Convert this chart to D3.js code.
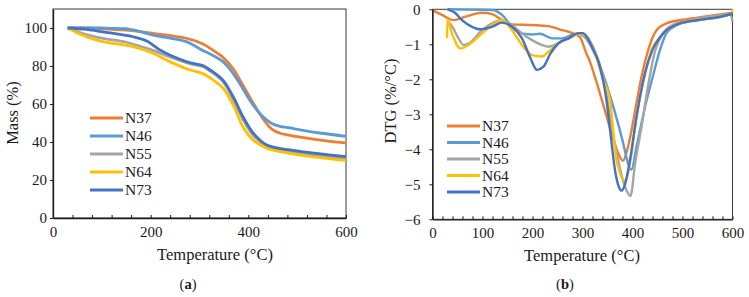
<!DOCTYPE html>
<html>
<head>
<meta charset="utf-8">
<script src="https://cdn.jsdelivr.net/npm/d3@7"></script>
<style>
  body { margin: 0; background: #fff; }
  .axis path, .axis line { stroke: #1a1a1a; }
</style>
</head>
<body>
<svg id="chart" width="749" height="297"></svg>
<script>
const FONT = "Times New Roman, Liberation Serif, Times, DejaVu Serif, serif";

// series names + Excel colours
const seriesNames = ["N37", "N46", "N55", "N64", "N73"];
const seriesColors = ["#ED7D31", "#5B9BD5", "#A5A5A5", "#FFC000", "#4472C4"];

// (a) TGA, [temperature, mass %]
const tgaN37 = [[30,100],[70,100],[100,99.6],[143,99],[205,97.2],[273,94.6],[307,91.6],[335,87],[348,84.6],[369,78.5],[383,72.5],[403,63.5],[417,57.5],[428,53],[438,49.5],[448,46.8],[465,44.6],[485,43.5],[520,42],[560,40.6],[600,39.5]];
const tgaN46 = [[30,100],[100,100],[150,99.6],[164,99],[205,96.3],[273,92.8],[301,89],[348,82.3],[369,76],[383,70.5],[403,62],[417,57],[428,53.8],[438,51.5],[448,49.8],[465,48.2],[485,47.4],[506,46.4],[550,44.6],[600,43]];
const tgaN55 = [[30,100],[68,96.5],[102,94.5],[150,92.5],[205,88.2],[239,84.8],[281,81.2],[307,79.6],[322,77.3],[348,71.8],[369,62.5],[389,52],[410,43.5],[438,37.8],[485,34.9],[540,33],[600,31.2]];
const tgaN64 = [[30,100],[68,95.4],[102,92.8],[164,90.2],[205,86.7],[239,82.3],[281,77.9],[307,76],[322,73.7],[348,68.4],[369,59.5],[389,48],[410,41],[438,36.8],[485,34],[540,32],[600,30.2]];
const tgaN73 = [[30,100],[68,99.3],[102,98],[164,95.4],[191,93.3],[218,88.6],[239,85.8],[281,81.7],[307,80.3],[322,77.9],[348,72.6],[369,63.8],[389,53.3],[410,44.7],[438,38.4],[485,35.8],[540,34],[600,32.3]];

// (b) DTG, [temperature, %/°C]
const dtgN37 = [[0,-0.03],[19,-0.16],[42,-0.31],[66,-0.21],[99,-0.1],[119,-0.14],[139,-0.3],[159,-0.43],[199,-0.45],[232,-0.48],[255,-0.58],[280,-0.68],[295,-0.8],[306,-1.2],[315,-1.5],[322,-1.8],[341,-2.7],[358,-3.54],[371,-4.1],[381,-4.33],[391,-3.93],[408,-2.68],[417,-2.0],[425,-1.5],[435,-1.0],[448,-0.6],[468,-0.4],[500,-0.3],[550,-0.2],[600,-0.1]];
const dtgN46 = [[30,0],[120,-0.02],[139,-0.16],[159,-0.5],[179,-0.69],[199,-0.72],[215,-0.7],[239,-0.83],[259,-0.83],[279,-0.73],[292,-0.7],[313,-0.95],[322,-1.2],[341,-1.85],[362,-2.8],[381,-3.8],[391,-4.4],[398,-4.58],[408,-3.93],[425,-2.79],[441,-1.9],[455,-1.16],[468,-0.68],[489,-0.45],[530,-0.3],[570,-0.2],[600,-0.12]];
const dtgN55 = [[30,-0.33],[40,-0.5],[52,-0.83],[62,-1.02],[72,-0.98],[99,-0.6],[119,-0.4],[139,-0.31],[159,-0.45],[179,-0.69],[199,-0.88],[219,-1.02],[232,-1.07],[252,-0.97],[279,-0.78],[297,-0.68],[313,-0.85],[322,-1.1],[341,-1.9],[362,-3.65],[385,-5.07],[396,-5.33],[405,-4.43],[418,-3.36],[431,-2.2],[445,-1.2],[460,-0.7],[480,-0.45],[520,-0.3],[560,-0.2],[596,-0.15],[600,-0.35]];
const dtgN64 = [[29,-0.82],[30,-0.3],[39,-0.69],[56,-1.12],[72,-1.02],[99,-0.69],[119,-0.45],[139,-0.31],[159,-0.6],[179,-1.02],[199,-1.31],[219,-1.35],[232,-1.21],[252,-0.97],[279,-0.78],[297,-0.7],[313,-0.9],[322,-1.15],[341,-2.0],[355,-2.6],[368,-4.3],[385,-4.9],[395,-4.4],[408,-3.1],[425,-1.85],[440,-1.1],[455,-0.8],[469,-0.6],[495,-0.4],[535,-0.3],[589,-0.17],[597,-0.12],[600,0]];
const dtgN73 = [[30,0],[45,-0.1],[59,-0.31],[79,-0.5],[95,-0.57],[119,-0.5],[139,-0.38],[159,-0.5],[179,-0.83],[196,-1.4],[209,-1.73],[222,-1.64],[236,-1.26],[252,-0.97],[272,-0.83],[292,-0.68],[301,-0.68],[313,-0.9],[322,-1.16],[331,-1.45],[348,-2.6],[358,-3.8],[365,-4.6],[371,-5.0],[378,-5.18],[385,-5.0],[395,-4.3],[408,-3.07],[425,-1.82],[440,-1.16],[455,-0.8],[469,-0.59],[495,-0.4],[535,-0.3],[589,-0.17],[600,-0.12]];

const tgaData = [tgaN37, tgaN46, tgaN55, tgaN64, tgaN73];
const dtgData = [dtgN37, dtgN46, dtgN55, dtgN64, dtgN73];

const svg = d3.select("#chart").style("font-family", FONT);

function drawPanel(opts) {
  let x = d3.scaleLinear().domain([0, 600]).range([opts.left, opts.right]);
  let y = d3.scaleLinear().domain(opts.yDomain).range([opts.bottom, opts.top]);
  let g = svg.append("g");

  // clip to plot area
  g.append("clipPath").attr("id", opts.id + "-clip")
    .append("rect")
    .attr("x", opts.left).attr("y", opts.top - 2)
    .attr("width", opts.right - opts.left + 2).attr("height", opts.bottom - opts.top + 2);

  // frame
  g.append("rect")
    .attr("x", opts.left).attr("y", opts.top)
    .attr("width", opts.right - opts.left).attr("height", opts.bottom - opts.top)
    .attr("fill", "none").attr("stroke", "#3a3a3a").attr("stroke-width", 1);

  let line = d3.line().x(d => x(d[0])).y(d => y(d[1])).curve(opts.curve);

  g.append("g").attr("clip-path", "url(#" + opts.id + "-clip)")
    .selectAll("path")
    .data(opts.data)
    .enter()
    .append("path")
    .attr("d", line)
    .attr("fill", "none")
    .attr("stroke", (d, i) => seriesColors[i])
    .attr("stroke-width", opts.lineWidth)
    .attr("stroke-linejoin", "round");

  // x axis: minor ticks inside, labels on majors
  let xAxis = d3.axisBottom(x)
    .tickValues(d3.range(0, 601, opts.minorStep))
    .tickFormat(d => (d % opts.majorStep === 0) ? d : "")
    .tickSizeInner(-3).tickSizeOuter(0).tickPadding(8);
  g.append("g").attr("class", "axis")
    .attr("transform", "translate(0," + opts.bottom + ")")
    .call(xAxis)
    .attr("font-family", null).attr("font-size", null)
    .call(a => a.select(".domain").attr("stroke-width", 1.3))
    .selectAll("text").style("font-family", FONT).style("font-size", "15px").attr("fill", "#1a1a1a");

  let yAxis = d3.axisLeft(y)
    .tickValues(opts.yTicks)
    .tickFormat(d3.format("d"))
    .tickSizeInner(3).tickSizeOuter(0).tickPadding(opts.yPad);
  g.append("g").attr("class", "axis")
    .attr("transform", "translate(" + opts.left + ",0)")
    .call(yAxis)
    .attr("font-family", null).attr("font-size", null)
    .call(a => a.select(".domain").attr("stroke-width", 1.3))
    .selectAll("text").style("font-family", FONT).style("font-size", "15px").attr("fill", "#1a1a1a");

  // titles
  g.append("text")
    .attr("x", opts.xTitleX).attr("y", opts.bottom + 42)
    .attr("text-anchor", "middle")
    .style("font-family", FONT).style("font-size", "16.5px").attr("fill", "#1a1a1a")
    .text("Temperature (°C)");
  g.append("text")
    .attr("transform", "translate(" + opts.yTitleX + "," + opts.yTitleY + ") rotate(-90)")
    .attr("text-anchor", "middle")
    .style("font-family", FONT).style("font-size", "16.5px").attr("fill", "#1a1a1a")
    .text(opts.yTitle);

  let cap = g.append("text")
    .attr("x", opts.capX).attr("y", 289)
    .attr("text-anchor", "middle")
    .style("font-family", FONT).style("font-size", "14.5px").attr("fill", "#1a1a1a");
  cap.append("tspan").text("(");
  cap.append("tspan").attr("font-weight", "bold").text(opts.cap);
  cap.append("tspan").text(")");

  // legend
  let legend = g.append("g").attr("class", "legend-container");
  seriesNames.forEach((name, i) => {
    let ly = opts.legY + i * opts.legStep;
    legend.append("line")
      .attr("x1", opts.legX).attr("x2", opts.legX + 33)
      .attr("y1", ly).attr("y2", ly)
      .attr("stroke", seriesColors[i]).attr("stroke-width", 3);
    legend.append("text")
      .attr("x", opts.legX + 35).attr("y", ly + 5)
      .style("font-family", FONT).style("font-size", "15.5px").attr("fill", "#1a1a1a")
      .text(name);
  });
}

drawPanel({
  id: "tga", data: tgaData, curve: d3.curveCatmullRom.alpha(0.5),
  left: 53, right: 346, top: 9, bottom: 218,
  yDomain: [0, 110], yTicks: d3.range(0, 101, 20), yPad: 3,
  minorStep: 40, majorStep: 200, lineWidth: 2.8,
  yTitle: "Mass (%)", yTitleX: 18, yTitleY: 113,
  xTitleX: 215, capX: 188, cap: "a",
  legX: 90, legY: 118, legStep: 18
});

drawPanel({
  id: "dtg", data: dtgData, curve: d3.curveMonotoneX,
  left: 432.5, right: 732.5, top: 9.3, bottom: 219.3,
  yDomain: [-6, 0], yTicks: d3.range(-6, 1, 1), yPad: 9,
  minorStep: 20, majorStep: 100, lineWidth: 2.4,
  yTitle: "DTG (%/°C)", yTitleX: 396, yTitleY: 101,
  xTitleX: 582, capX: 565, cap: "b",
  legX: 447, legY: 126, legStep: 16.5
});
</script>
</body>
</html>
